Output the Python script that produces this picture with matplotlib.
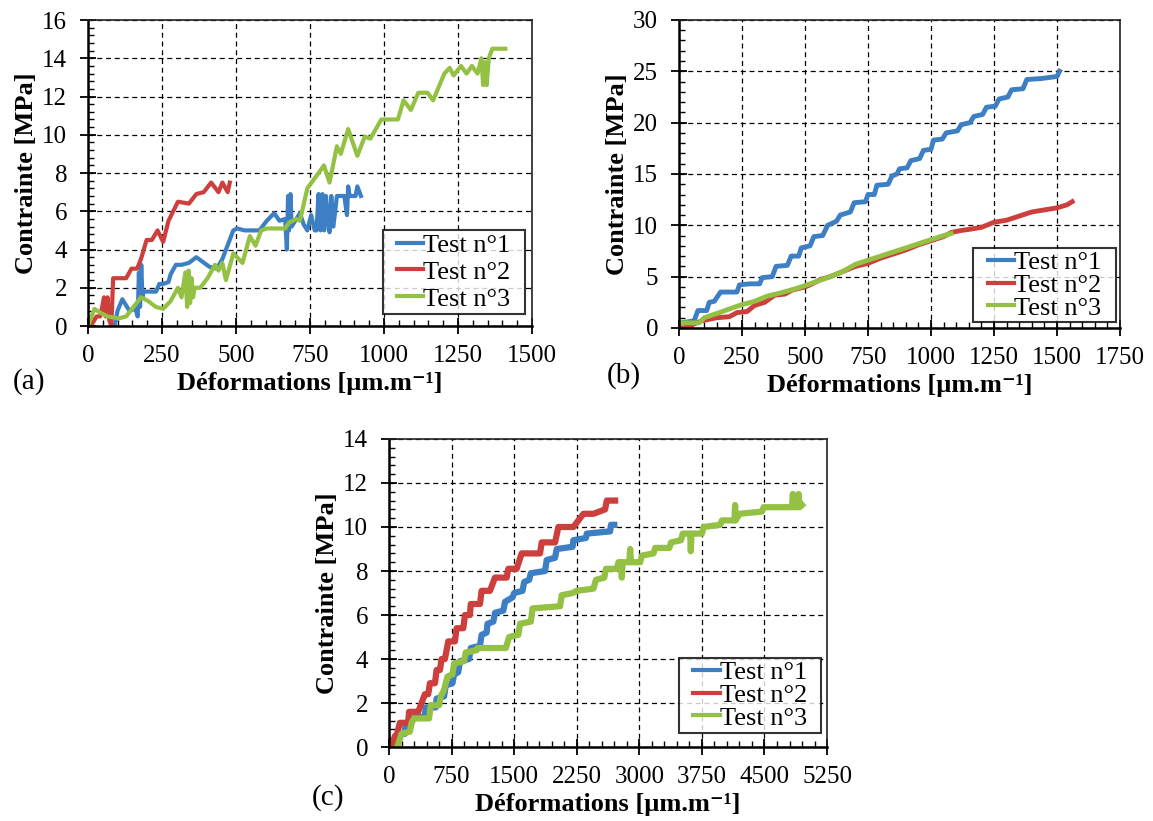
import matplotlib.pyplot as plt
from matplotlib.ticker import MultipleLocator

plt.rcParams['font.family'] = ['Liberation Serif', 'DejaVu Serif']

BLUE = '#3c7fc4'
RED = '#cd3f3c'
GREEN = '#94c043'
labels = ['Test n°1', 'Test n°2', 'Test n°3']

# (a)
a1_x = [90, 100, 116, 128, 140, 160, 168, 172, 176, 180,
        184, 188, 200, 230, 241, 254, 272, 279, 297, 316,
        341, 366, 410, 435, 454, 491, 504, 529, 579, 604,
        629, 647, 666, 672, 676, 679, 684, 688, 700, 716,
        729, 741, 754, 766, 772, 779, 786, 792, 798, 804,
        811, 816, 822, 829, 841, 866, 875, 879, 884, 904,
        910, 922]
a1_y = [0, 0.8, 1.4, 1.1, 0.8, 0.9, 0.5, 2.8, 1.0, 3.2,
        1.5, 1.8, 1.8, 1.8, 2.2, 2.2, 2.3, 2.7, 3.2, 3.2,
        3.3, 3.6, 3.1, 3.0, 3.5, 5.0, 5.1, 5.0, 5.0, 5.5,
        5.9, 5.5, 5.6, 4.0, 6.8, 5.0, 6.9, 5.2, 5.5, 5.9,
        5.3, 5.0, 5.8, 5.0, 5.0, 6.9, 5.0, 6.9, 5.0, 6.8,
        5.5, 4.9, 6.8, 5.2, 6.8, 6.8, 5.8, 7.3, 6.8, 6.8,
        7.3, 6.8]
a2_x = [10, 29, 41, 48, 54, 60, 66, 72, 79, 85,
        100, 129, 147, 166, 179, 198, 216, 235, 254, 272,
        304, 341, 366, 391, 416, 441, 454, 472, 479]
a2_y = [0, 0.5, 0.5, 1.0, 1.5, 0.5, 1.5, 0.3, 0, 2.5,
        2.5, 2.5, 3.0, 3.0, 3.5, 4.5, 4.5, 5.0, 4.4, 5.5,
        6.5, 6.4, 6.9, 7.0, 7.5, 7.0, 7.5, 7.0, 7.5]
a3_x = [0, 22, 41, 66, 104, 129, 154, 179, 204, 229,
        254, 279, 304, 316, 329, 335, 340, 345, 350, 355,
        360, 366, 379, 404, 429, 441, 454, 466, 491, 522,
        547, 566, 585, 604, 666, 679, 704, 716, 741, 779,
        797, 816, 841, 854, 879, 910, 935, 954, 991, 1047,
        1066, 1091, 1116, 1147, 1166, 1204, 1222, 1235, 1260, 1279,
        1297, 1316, 1329, 1335, 1341, 1347, 1354, 1366, 1410]
a3_y = [0, 0.9, 0.7, 0.5, 0.4, 0.5, 1.0, 1.5, 1.3, 1.0,
        0.9, 1.3, 2.0, 1.5, 2.8, 1.0, 2.9, 1.2, 2.5, 1.5,
        2.0, 2.0, 2.0, 2.5, 3.2, 2.9, 3.3, 2.4, 3.8, 3.3,
        4.7, 4.2, 5.0, 5.1, 5.1, 5.4, 5.6, 5.5, 7.2, 8.0,
        8.4, 7.5, 9.4, 9.0, 10.3, 8.9, 9.9, 9.8, 10.8, 10.8,
        11.8, 11.3, 12.2, 12.2, 11.8, 13.2, 13.5, 13.1, 13.6, 13.2,
        13.6, 13.2, 14.0, 12.6, 13.8, 12.6, 14.0, 14.5, 14.5]

# (b)
b1_x = [10, 60, 75, 110, 120, 140, 165, 230, 240, 280,
        320, 330, 370, 385, 430, 445, 475, 485, 520, 535,
        570, 590, 625, 640, 680, 695, 740, 750, 775, 785,
        830, 845, 865, 875, 905, 920, 955, 970, 1000, 1010,
        1045, 1060, 1105, 1120, 1155, 1170, 1205, 1220, 1255, 1270,
        1305, 1320, 1365, 1380, 1440, 1500, 1510]
b1_y = [0.5, 0.7, 1.7, 1.7, 2.5, 2.6, 3.5, 3.5, 4.2, 4.3,
        4.3, 4.9, 5.0, 6.0, 6.1, 7.0, 7.0, 7.8, 8.0, 8.9,
        9.0, 10.0, 10.4, 11.0, 11.3, 12.2, 12.3, 13.0, 13.0, 13.9,
        14.0, 14.8, 15.0, 15.5, 15.6, 16.3, 16.5, 17.3, 17.4, 18.3,
        18.4, 19.0, 19.2, 19.8, 20.0, 20.6, 20.8, 21.5, 21.6, 22.3,
        22.5, 23.2, 23.3, 24.2, 24.3, 24.5, 25.0]
b2_x = [10, 40, 60, 90, 130, 150, 200, 230, 270, 300,
        340, 380, 420, 450, 500, 520, 560, 600, 650, 700,
        750, 800, 850, 900, 950, 1000, 1050, 1080, 1120, 1150,
        1200, 1250, 1300, 1350, 1400, 1450, 1500, 1540, 1560]
b2_y = [0, 0.1, 0.4, 0.7, 0.9, 1.0, 1.1, 1.5, 1.6, 2.2,
        2.5, 3.2, 3.3, 3.7, 4.0, 4.2, 4.7, 5.0, 5.5, 6.0,
        6.3, 6.8, 7.2, 7.6, 8.1, 8.5, 8.9, 9.3, 9.5, 9.6,
        9.8, 10.3, 10.5, 10.9, 11.3, 11.5, 11.7, 12.0, 12.3]
b3_x = [10, 80, 100, 160, 240, 300, 350, 400, 460, 520,
        600, 650, 700, 750, 800, 850, 900, 950, 1000, 1050,
        1080]
b3_y = [0.5, 0.5, 1.0, 1.5, 2.2, 2.6, 3.1, 3.4, 3.8, 4.3,
        5.0, 5.5, 6.2, 6.6, 7.0, 7.4, 7.8, 8.2, 8.6, 9.0,
        9.2]

# (c)
c1_x = [90, 130, 190, 200, 270, 280, 430, 440, 560, 570,
        660, 680, 760, 780, 830, 850, 960, 980, 1090, 1110,
        1170, 1180, 1250, 1270, 1370, 1390, 1480, 1500, 1600, 1620,
        1680, 1700, 1870, 1890, 1990, 2010, 2200, 2210, 2360, 2370,
        2650, 2660, 2700]
c1_y = [0, 0.6, 0.6, 1.1, 1.1, 1.3, 1.4, 1.8, 1.8, 2.2,
        2.3, 2.8, 2.9, 3.3, 3.4, 3.9, 4.0, 4.5, 4.6, 5.1,
        5.2, 5.6, 5.7, 6.1, 6.2, 6.6, 6.8, 7.0, 7.1, 7.5,
        7.6, 7.9, 8.0, 8.5, 8.6, 9.0, 9.1, 9.4, 9.5, 9.7,
        9.8, 10.1, 10.1]
c2_x = [30, 70, 90, 130, 230, 240, 350, 390, 430, 470,
        490, 550, 570, 610, 630, 670, 690, 710, 790, 810,
        890, 910, 970, 980, 1090, 1110, 1210, 1270, 1410, 1430,
        1530, 1590, 1810, 1830, 1990, 2030, 2210, 2330, 2450, 2590,
        2610, 2710]
c2_y = [0, 0.5, 0.5, 1.1, 1.1, 1.6, 1.6, 2.0, 2.4, 2.4,
        2.9, 2.9, 3.5, 3.5, 4.0, 4.0, 4.4, 4.8, 4.8, 5.4,
        5.4, 6.0, 6.0, 6.5, 6.5, 7.1, 7.1, 7.7, 7.7, 8.1,
        8.1, 8.8, 8.8, 9.3, 9.3, 10.0, 10.0, 10.6, 10.6, 10.8,
        11.2, 11.2]
c3_x = [100, 150, 250, 270, 300, 480, 500, 600, 620, 660,
        700, 760, 780, 900, 920, 1050, 1060, 1400, 1440, 1550,
        1570, 1700, 1720, 2050, 2070, 2200, 2250, 2450, 2480, 2580,
        2600, 2730, 2750, 2780, 2790, 2800, 2880, 2890, 2900, 3010,
        3030, 3170, 3190, 3360, 3380, 3500, 3520, 3610, 3617, 3625,
        3750, 3770, 3970, 3990, 4140, 4148, 4155, 4200, 4470, 4490,
        4830, 4840, 4850, 4900, 4910, 4920, 4950]
c3_y = [0, 0.6, 0.7, 1.1, 1.3, 1.3, 1.9, 1.9, 2.3, 2.6,
        3.2, 3.3, 3.8, 3.9, 4.3, 4.4, 4.5, 4.5, 5.0, 5.1,
        5.6, 5.7, 6.3, 6.4, 6.9, 7.0, 7.1, 7.2, 7.6, 7.7,
        8.1, 8.1, 8.4, 8.4, 7.7, 8.4, 8.4, 9.0, 8.4, 8.4,
        8.7, 8.8, 9.05, 9.05, 9.3, 9.4, 9.7, 9.7, 8.9, 9.7,
        9.7, 10.0, 10.1, 10.3, 10.3, 11.0, 10.3, 10.6, 10.7, 10.9,
        10.9, 11.5, 10.9, 10.9, 11.5, 10.9, 11.0]

FS = 18
FL = 19


def style(ax, xmax, xstep, xminor, ymax, ystep, yminor, tag, tagpos, legpos, lspace):
    ax.set_xlim(0, xmax)
    ax.set_ylim(0, ymax)
    ax.xaxis.set_major_locator(MultipleLocator(xstep))
    ax.xaxis.set_minor_locator(MultipleLocator(xminor))
    ax.yaxis.set_major_locator(MultipleLocator(ystep))
    ax.yaxis.set_minor_locator(MultipleLocator(yminor))
    ax.grid(True, which='major', color='black', linestyle=(0, (4, 3)), linewidth=0.9)
    ax.set_axisbelow(True)
    ax.tick_params(which='major', direction='inout', length=12, width=1.3,
                   labelsize=FS)
    ax.tick_params(axis='x', which='major', pad=8)
    ax.tick_params(axis='y', which='major', pad=9)
    ax.tick_params(which='minor', direction='in', length=4.5, width=1.0)
    for s in ['left', 'bottom']:
        ax.spines[s].set_color('black')
        ax.spines[s].set_linewidth(1.8)
    for s in ['top', 'right']:
        ax.spines[s].set_color('#222222')
        ax.spines[s].set_linewidth(1.2)
    ax.set_ylabel('Contrainte [MPa]', fontsize=FL, fontweight='bold', labelpad=3)
    ax.set_xlabel('Déformations [µm.m⁻¹]', fontsize=FL, fontweight='bold', labelpad=3)
    leg = ax.legend(loc='lower right', bbox_to_anchor=legpos, fontsize=FL,
                    frameon=True, fancybox=False, edgecolor='black',
                    handlelength=1.0, handletextpad=0.0, borderpad=0.05,
                    labelspacing=lspace, borderaxespad=0)
    frame = leg.get_frame()
    frame.set_linewidth(1.5)
    # wider side padding than top/bottom padding
    frame.set_boxstyle('square', pad=0.5)
    frame.set_mutation_aspect(0.12)
    for h in leg.get_lines():
        h.set_linewidth(3)
    ax.figure.text(tagpos[0], tagpos[1], tag, fontsize=21, ha='left', va='center')


fig = plt.figure(figsize=(11.53, 8.21), dpi=100)

ax_a = fig.add_axes([0.0763, 0.6029, 0.3851, 0.3727])
ax_a.plot(a1_x, a1_y, color=BLUE, lw=3, label=labels[0])
ax_a.plot(a2_x, a2_y, color=RED, lw=3, label=labels[1])
ax_a.plot(a3_x, a3_y, color=GREEN, lw=3, label=labels[2])
style(ax_a, 1500, 250, 50, 16, 2, 0.4, '(a)', (0.011, 0.535), (0.955, 0.046), 0.13)

ax_b = fig.add_axes([0.5889, 0.6005, 0.3825, 0.3752])
ax_b.plot(b1_x, b1_y, color=BLUE, lw=3.5, label=labels[0])
ax_b.plot(b2_x, b2_y, color=RED, lw=3.5, label=labels[1])
ax_b.plot(b3_x, b3_y, color=GREEN, lw=3.5, label=labels[2])
style(ax_b, 1750, 250, 50, 30, 5, 1, '(b)', (0.526, 0.543), (0.961, 0.023), -0.03)

ax_c = fig.add_axes([0.3374, 0.0901, 0.3799, 0.3752])
ax_c.plot(c1_x, c1_y, color=BLUE, lw=4.5, label=labels[0])
ax_c.plot(c2_x, c2_y, color=RED, lw=4.5, label=labels[1])
ax_c.plot(c3_x, c3_y, color=GREEN, lw=4.5, label=labels[2])
style(ax_c, 5250, 750, 150, 14, 2, 0.4, '(c)', (0.27, 0.028), (0.957, 0.052), -0.03)

fig.savefig('out.png', dpi=100)
